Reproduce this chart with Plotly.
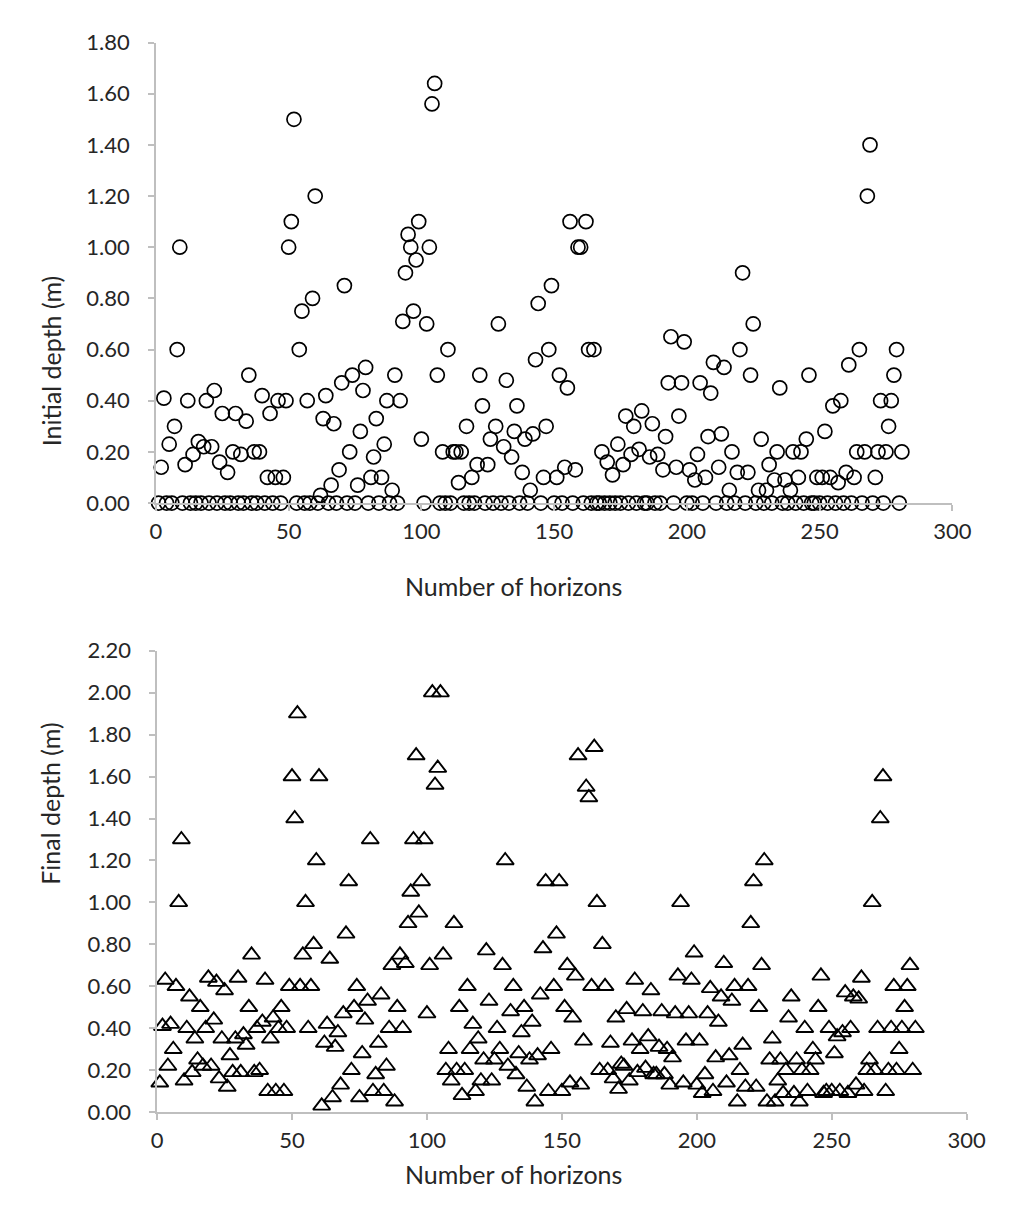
import plotly.graph_objects as go

horizon = list(range(1, 282))

initial_depth = [
    0, 0.14, 0.41, 0, 0.23, 0, 0.30, 0.60, 1.00, 0,
    0.15, 0.40, 0, 0.19, 0, 0.24, 0, 0.22, 0.40, 0,
    0.22, 0.44, 0, 0.16, 0.35, 0, 0.12, 0, 0.20, 0.35,
    0, 0.19, 0, 0.32, 0.50, 0, 0.20, 0, 0.20, 0.42,
    0, 0.10, 0.35, 0, 0.10, 0.40, 0, 0.10, 0.40, 1.00,
    1.10, 1.50, 0, 0.60, 0.75, 0, 0.40, 0, 0.80, 1.20,
    0, 0.03, 0.33, 0.42, 0, 0.07, 0.31, 0, 0.13, 0.47,
    0.85, 0, 0.20, 0.50, 0, 0.07, 0.28, 0.44, 0.53, 0,
    0.10, 0.18, 0.33, 0, 0.10, 0.23, 0.40, 0, 0.05, 0.50,
    0, 0.40, 0.71, 0.90, 1.05, 1.00, 0.75, 0.95, 1.10, 0.25,
    0, 0.70, 1.00, 1.56, 1.64, 0.50, 0, 0.20, 0, 0.60,
    0, 0.20, 0.20, 0.08, 0.20, 0, 0.30, 0, 0.10, 0,
    0.15, 0.50, 0.38, 0, 0.15, 0.25, 0, 0.30, 0.70, 0,
    0.22, 0.48, 0, 0.18, 0.28, 0.38, 0, 0.12, 0.25, 0,
    0.05, 0.27, 0.56, 0.78, 0, 0.10, 0.30, 0.60, 0.85, 0,
    0.10, 0.50, 0, 0.14, 0.45, 1.10, 0, 0.13, 1.00, 1.00,
    0, 1.10, 0.60, 0, 0.60, 0, 0, 0.20, 0, 0.16,
    0, 0.11, 0, 0.23, 0, 0.15, 0.34, 0, 0.19, 0.30,
    0, 0.21, 0.36, 0, 0, 0.18, 0.31, 0, 0.19, 0,
    0.13, 0.26, 0.47, 0.65, 0, 0.14, 0.34, 0.47, 0.63, 0,
    0.13, 0, 0.09, 0.19, 0.47, 0, 0.10, 0.26, 0.43, 0.55,
    0, 0.14, 0.27, 0.53, 0, 0.05, 0.20, 0, 0.12, 0.60,
    0.90, 0, 0.12, 0.50, 0.70, 0, 0.05, 0.25, 0, 0.05,
    0.15, 0, 0.09, 0.20, 0.45, 0, 0.09, 0, 0.05, 0.20,
    0, 0.10, 0.20, 0, 0.25, 0.50, 0, 0, 0.10, 0,
    0.10, 0.28, 0, 0.10, 0.38, 0, 0.08, 0.40, 0, 0.12,
    0.54, 0, 0.10, 0.20, 0.60, 0, 0.20, 1.20, 1.40, 0,
    0.10, 0.20, 0.40, 0, 0.20, 0.30, 0.40, 0.50, 0.60, 0,
    0.20,
]

final_depth = [
    0.14, 0.41, 0.63, 0.22, 0.42, 0.30, 0.60, 1.00, 1.30, 0.15,
    0.40, 0.55, 0.19, 0.35, 0.25, 0.50, 0.22, 0.40, 0.64, 0.22,
    0.44, 0.62, 0.16, 0.35, 0.58, 0.12, 0.27, 0.19, 0.35, 0.64,
    0.19, 0.37, 0.32, 0.50, 0.75, 0.19, 0.40, 0.20, 0.43, 0.63,
    0.10, 0.35, 0.45, 0.10, 0.40, 0.50, 0.10, 0.40, 0.60, 1.60,
    1.40, 1.90, 0.60, 0.75, 1.00, 0.40, 0.60, 0.80, 1.20, 1.60,
    0.03, 0.33, 0.42, 0.73, 0.07, 0.31, 0.38, 0.13, 0.47, 0.85,
    1.10, 0.20, 0.50, 0.60, 0.07, 0.28, 0.44, 0.53, 1.30, 0.10,
    0.18, 0.33, 0.56, 0.10, 0.22, 0.40, 0.70, 0.05, 0.50, 0.75,
    0.40, 0.71, 0.90, 1.05, 1.30, 1.70, 0.95, 1.10, 1.30, 0.47,
    0.70, 2.00, 1.56, 1.64, 2.00, 0.75, 0.20, 0.30, 0.15, 0.90,
    0.20, 0.50, 0.08, 0.20, 0.60, 0.30, 0.42, 0.10, 0.35, 0.15,
    0.25, 0.77, 0.53, 0.15, 0.25, 0.40, 0.30, 0.70, 1.20, 0.22,
    0.48, 0.60, 0.18, 0.28, 0.38, 0.50, 0.12, 0.25, 0.43, 0.05,
    0.27, 0.56, 0.78, 1.10, 0.10, 0.30, 0.60, 0.85, 1.10, 0.10,
    0.50, 0.70, 0.14, 0.45, 0.65, 1.70, 0.13, 0.34, 1.55, 1.50,
    0.60, 1.74, 1.00, 0.20, 0.80, 0.60, 0.20, 0.33, 0.16, 0.45,
    0.11, 0.23, 0.22, 0.49, 0.15, 0.34, 0.63, 0.19, 0.30, 0.48,
    0.21, 0.36, 0.58, 0.18, 0.18, 0.31, 0.48, 0.18, 0.30, 0.13,
    0.26, 0.47, 0.65, 1.00, 0.14, 0.34, 0.47, 0.63, 0.76, 0.13,
    0.34, 0.09, 0.18, 0.47, 0.59, 0.10, 0.26, 0.43, 0.55, 0.71,
    0.14, 0.27, 0.53, 0.60, 0.05, 0.20, 0.32, 0.12, 0.60, 0.90,
    1.10, 0.12, 0.50, 0.70, 1.20, 0.05, 0.25, 0.35, 0.05, 0.15,
    0.25, 0.09, 0.20, 0.45, 0.55, 0.09, 0.25, 0.05, 0.20, 0.40,
    0.10, 0.20, 0.30, 0.25, 0.50, 0.65, 0.09, 0.10, 0.40, 0.10,
    0.28, 0.36, 0.10, 0.38, 0.57, 0.09, 0.40, 0.55, 0.13, 0.54,
    0.64, 0.10, 0.20, 0.25, 1.00, 0.20, 0.40, 1.40, 1.60, 0.10,
    0.20, 0.40, 0.60, 0.20, 0.30, 0.40, 0.50, 0.60, 0.70, 0.20,
    0.40,
]

x_title = "Number of horizons"
y_title_top = "Initial depth (m)"
y_title_bottom = "Final depth (m)"

W, H = 1015, 1213
FONT = "Lato"
AXIS_GRAY = "#BFBFBF"
TEXT = "#262626"


def fx(p):
    return p / W


def fy(p):
    return 1 - p / H


fig = go.Figure()
fig.add_trace(go.Scatter(
    x=horizon, y=initial_depth, mode="markers", cliponaxis=False,
    marker=dict(symbol="circle-open", size=14, color="black",
                line=dict(width=1.7, color="black")),
    xaxis="x", yaxis="y", hoverinfo="skip"))
fig.add_trace(go.Scatter(
    x=horizon, y=final_depth, mode="markers", cliponaxis=False,
    marker=dict(symbol="triangle-up-open", size=15, color="black",
                line=dict(width=1.9, color="black")),
    xaxis="x2", yaxis="y2", hoverinfo="skip"))

common_axis = dict(showline=True, linecolor=AXIS_GRAY, linewidth=1.5,
                   ticks="outside", ticklen=6, tickcolor=AXIS_GRAY, tickwidth=1.5,
                   showgrid=False, zeroline=False,
                   tickfont=dict(family=FONT, size=22, color=TEXT))

fig.update_layout(
    width=W, height=H, autosize=False,
    margin=dict(l=0, r=0, t=0, b=0),
    paper_bgcolor="white", plot_bgcolor="white",
    showlegend=False,
    xaxis=dict(domain=[fx(145.5), fx(962)], range=[0, 300], dtick=50,
               anchor="y", ticklabelstandoff=2, **common_axis),
    yaxis=dict(domain=[fy(492), fy(21)], range=[0, 1.8], dtick=0.2,
               tickformat=".2f", anchor="x", ticklabelstandoff=14, **common_axis),
    xaxis2=dict(domain=[fx(146.7), fx(976.7)], range=[0, 300], dtick=50,
                anchor="y2", ticklabelstandoff=2, **common_axis),
    yaxis2=dict(domain=[fy(1115), fy(643)], range=[0, 2.2], dtick=0.2,
                tickformat=".2f", anchor="x2", ticklabelstandoff=14, **common_axis),
    annotations=[
        dict(text=x_title, x=fx(512), y=fy(577), xref="paper", yref="paper",
             showarrow=False, font=dict(family=FONT, size=25, color=TEXT)),
        dict(text=x_title, x=fx(512), y=fy(1196), xref="paper", yref="paper",
             showarrow=False, font=dict(family=FONT, size=25, color=TEXT)),
        dict(text=y_title_top, x=fx(20), y=fy(257), xref="paper", yref="paper",
             showarrow=False, textangle=-90, font=dict(family=FONT, size=25, color=TEXT)),
        dict(text=y_title_bottom, x=fx(20), y=fy(885), xref="paper", yref="paper",
             showarrow=False, textangle=-90, font=dict(family=FONT, size=25, color=TEXT)),
    ],
)

fig.write_html("out.html")
